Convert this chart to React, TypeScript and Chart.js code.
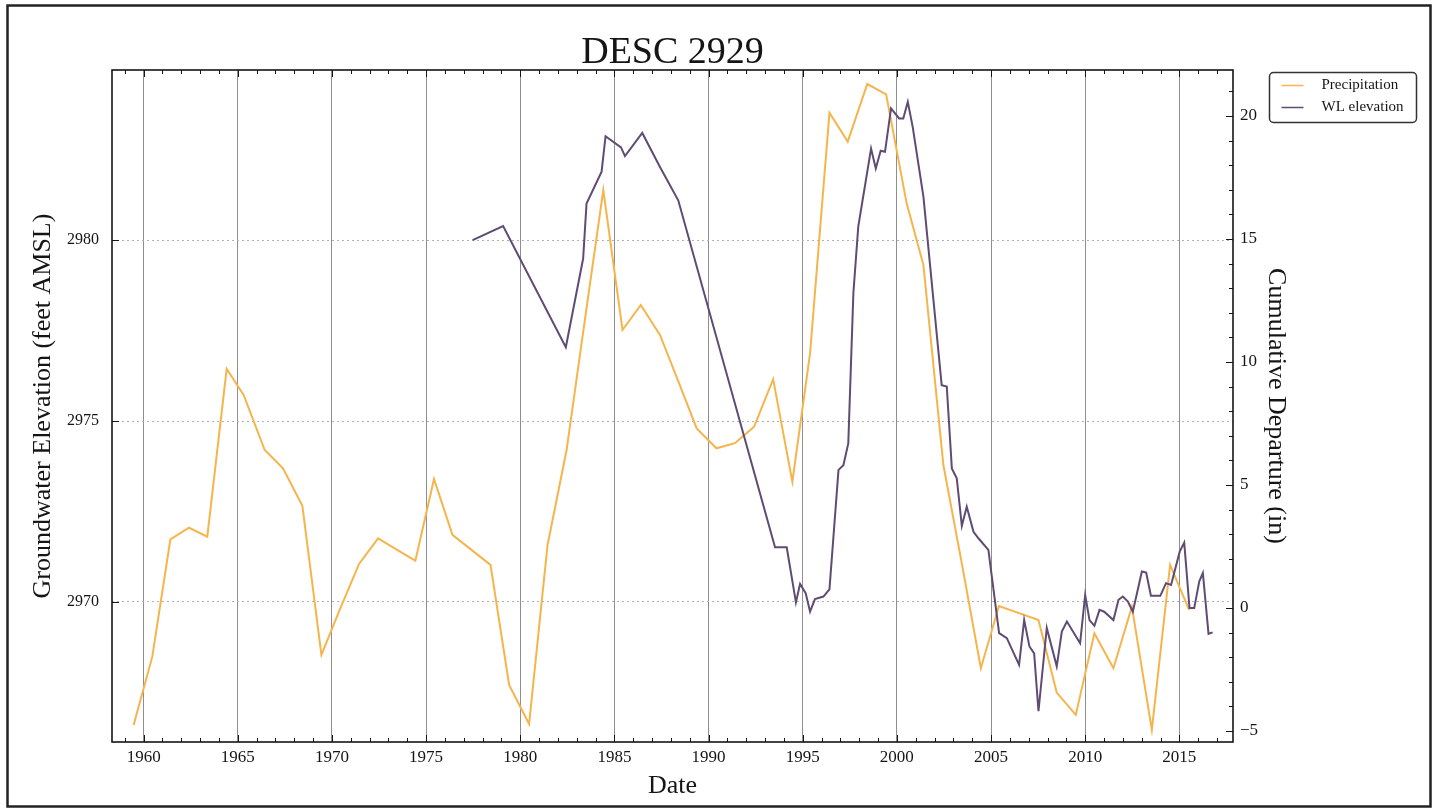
import React, { useEffect, useRef } from 'react';
import { Chart, registerables } from 'chart.js';

Chart.register(...registerables);

const TITLE = 'DESC 2929';

const precipYears = [
  1959.47, 1960.46, 1961.42, 1962.41, 1963.38, 1964.41, 1965.31, 1966.43, 1967.4, 1968.43,
  1969.44, 1970.41, 1971.44, 1972.45, 1973.46, 1974.43, 1975.42, 1976.4, 1977.41, 1978.42,
  1979.41, 1980.47, 1981.45, 1982.46, 1983.43, 1984.41, 1985.43, 1986.4, 1987.42, 1988.4,
  1989.37, 1990.42, 1991.4, 1992.42, 1993.43, 1994.45, 1995.39, 1996.42, 1997.39, 1998.43,
  1999.43, 2000.52, 2001.41, 2002.47, 2003.45, 2004.46, 2005.42, 2006.45, 2007.52, 2008.49,
  2009.5, 2010.49, 2011.5, 2012.48, 2013.54, 2014.51, 2015.52,
];
const precipValues = [
  -4.76, -1.98, 2.79, 3.26, 2.9, 9.72, 8.66, 6.42, 5.68, 4.15,
  -1.91, -0.08, 1.79, 2.83, 2.36, 1.92, 5.24, 2.97, 2.36, 1.75,
  -3.13, -4.72, 2.56, 6.42, 11.7, 16.99, 11.3, 12.32, 11.1, 9.2,
  7.3, 6.49, 6.7, 7.37, 9.3, 5.13, 10.35, 20.13, 18.96, 21.3,
  20.88, 16.45, 13.94, 5.81, 1.8, -2.45, 0.08, -0.2, -0.49, -3.44,
  -4.35, -1.03, -2.45, 0.05, -4.96, 1.75, -0.08,
];

const wlYears = [
  1977.47, 1979.09, 1982.42, 1983.34, 1983.52, 1984.32, 1984.53, 1985.35, 1985.56, 1986.48,
  1987.42, 1988.39, 1993.53, 1994.15, 1994.64, 1994.86, 1995.16, 1995.39, 1995.65, 1996.1,
  1996.42, 1996.9, 1997.16, 1997.42, 1997.69, 1997.95, 1998.63, 1998.88, 1999.14, 1999.37,
  1999.69, 2000.12, 2000.34, 2000.58, 2000.84, 2001.41, 2002.38, 2002.65, 2002.92, 2003.18,
  2003.45, 2003.71, 2004.07, 2004.33, 2004.86, 2005.43, 2005.84, 2006.49, 2006.76, 2007.04,
  2007.29, 2007.52, 2007.96, 2008.49, 2008.76, 2009.03, 2009.73, 2010.0, 2010.23, 2010.49,
  2010.76, 2011.01, 2011.5, 2011.77, 2012.0, 2012.27, 2012.53, 2013.01, 2013.24, 2013.49,
  2013.99, 2014.29, 2014.56, 2015.02, 2015.26, 2015.54, 2015.79, 2016.06, 2016.25, 2016.55,
  2016.77,
];
const wlValues = [
  2980.0, 2980.39, 2977.04, 2979.49, 2981.01, 2981.89, 2982.87, 2982.56, 2982.32, 2982.96,
  2982.02, 2981.1, 2971.51, 2971.51, 2969.99, 2970.5, 2970.24, 2969.73, 2970.08, 2970.15,
  2970.35, 2973.65, 2973.78, 2974.38, 2978.53, 2980.37, 2982.53, 2981.98, 2982.47, 2982.44,
  2983.64, 2983.36, 2983.36, 2983.82, 2983.13, 2981.2, 2975.99, 2975.95, 2973.69, 2973.42,
  2972.1, 2972.63, 2971.94, 2971.76, 2971.44, 2969.14, 2969.0, 2968.26, 2969.5, 2968.77,
  2968.58, 2966.98, 2969.28, 2968.22, 2969.18, 2969.46, 2968.86, 2970.19, 2969.5, 2969.34,
  2969.78, 2969.73, 2969.5, 2970.06, 2970.15, 2970.01, 2969.73, 2970.84, 2970.81, 2970.17,
  2970.17, 2970.52, 2970.47, 2971.39, 2971.64, 2969.83, 2969.83, 2970.57, 2970.8, 2969.12,
  2969.16,
];

const xTicks = [1960, 1965, 1970, 1975, 1980, 1985, 1990, 1995, 2000, 2005, 2010, 2015];
const leftTicks = [2970, 2975, 2980];
const rightTicks = [-5, 0, 5, 10, 15, 20];

const SERIF = "'Liberation Serif', 'Times New Roman', Times, serif";
const ORANGE = '#f6b44c';
const PURPLE = '#5f4b74';
const INK = '#151515';

const decorPlugin = {
  id: 'decor',
  beforeDraw(chart: any) {
    const { ctx, width, height } = chart;
    ctx.save();
    ctx.fillStyle = '#ffffff';
    ctx.fillRect(0, 0, width, height);
    ctx.restore();
  },
  afterDraw(chart: any) {
    const { ctx, chartArea: ca, scales } = chart;
    const x = scales.x;
    const yL = scales.yL;
    const yR = scales.yR;
    ctx.save();
    ctx.strokeStyle = INK;
    ctx.lineWidth = 1;
    ctx.beginPath();
    // year ticks on bottom and top frame
    for (let v = Math.ceil(x.min); v <= x.max; v++) {
      const px = Math.round(x.getPixelForValue(v)) + 0.5;
      const len = v % 5 === 0 ? 7 : 4;
      ctx.moveTo(px, ca.bottom);
      ctx.lineTo(px, ca.bottom - len);
      ctx.moveTo(px, ca.top);
      ctx.lineTo(px, ca.top + len);
    }
    // right axis ticks
    for (let v = Math.ceil(yR.min); v <= yR.max; v++) {
      const py = Math.round(yR.getPixelForValue(v)) + 0.5;
      const len = v % 5 === 0 ? 7 : 4;
      ctx.moveTo(ca.right, py);
      ctx.lineTo(ca.right - len, py);
    }
    // left axis ticks
    for (const v of leftTicks) {
      const py = Math.round(yL.getPixelForValue(v)) + 0.5;
      ctx.moveTo(ca.left, py);
      ctx.lineTo(ca.left + 7, py);
    }
    ctx.stroke();

    // plot frame
    ctx.lineWidth = 1.6;
    ctx.strokeStyle = INK;
    ctx.strokeRect(ca.left, ca.top, ca.right - ca.left, ca.bottom - ca.top);

    // outer figure border
    ctx.lineWidth = 2.5;
    ctx.strokeStyle = '#222';
    ctx.strokeRect(7.5, 5.5, 1423, 801);

    // title
    ctx.fillStyle = INK;
    ctx.font = `38px ${SERIF}`;
    ctx.textAlign = 'center';
    ctx.textBaseline = 'alphabetic';
    ctx.fillText(TITLE, (ca.left + ca.right) / 2, 63);

    // legend
    const lx = 1269.5;
    const ly = 72.5;
    const lw = 147;
    const lh = 50;
    ctx.lineWidth = 1.5;
    ctx.strokeStyle = '#333';
    ctx.beginPath();
    if (ctx.roundRect) ctx.roundRect(lx, ly, lw, lh, 4);
    else ctx.rect(lx, ly, lw, lh);
    ctx.stroke();
    ctx.font = `15px ${SERIF}`;
    ctx.textAlign = 'left';
    ctx.textBaseline = 'middle';
    chart.data.datasets.forEach((ds: any, i: number) => {
      const cy = ly + 13 + i * 22;
      ctx.strokeStyle = ds.borderColor;
      ctx.lineWidth = 1.5;
      ctx.beginPath();
      ctx.moveTo(lx + 12, cy);
      ctx.lineTo(lx + 34, cy);
      ctx.stroke();
      ctx.fillStyle = INK;
      ctx.fillText(ds.label, lx + 52, cy);
    });
    ctx.restore();
  },
};

export default function App() {
  const ref = useRef<HTMLCanvasElement>(null);

  useEffect(() => {
    const canvas = ref.current;
    if (!canvas) return;
    const chart = new Chart(canvas, {
      type: 'line',
      data: {
        datasets: [
          {
            label: 'Precipitation',
            data: precipYears.map((yr, i) => ({ x: yr, y: precipValues[i] })),
            yAxisID: 'yR',
            borderColor: ORANGE,
            backgroundColor: ORANGE,
            borderWidth: 2,
            pointRadius: 0,
            tension: 0,
            order: 1,
          },
          {
            label: 'WL elevation',
            data: wlYears.map((yr, i) => ({ x: yr, y: wlValues[i] })),
            yAxisID: 'yL',
            borderColor: PURPLE,
            backgroundColor: PURPLE,
            borderWidth: 2,
            pointRadius: 0,
            tension: 0,
            order: 0,
          },
        ],
      },
      options: {
        responsive: false,
        maintainAspectRatio: false,
        animation: false,
        layout: { padding: { top: 70, left: 0, right: 0, bottom: 0 } },
        plugins: {
          legend: { display: false },
          title: { display: false },
          tooltip: { enabled: false },
        },
        scales: {
          x: {
            type: 'linear',
            position: 'bottom',
            min: 1958.32,
            max: 2017.85,
            afterFit: (s: any) => {
              s.height = 68;
            },
            afterBuildTicks: (s: any) => {
              s.ticks = xTicks.map((v) => ({ value: v }));
            },
            ticks: {
              color: INK,
              font: { family: SERIF, size: 17 },
              padding: 5,
              maxRotation: 0,
              autoSkip: false,
              callback: (v: any) => String(v),
            },
            grid: { color: '#8e8e8e', lineWidth: 1, drawTicks: false },
            border: { display: false },
            title: {
              display: true,
              text: 'Date',
              color: INK,
              font: { family: SERIF, size: 26 },
              padding: { top: 0, bottom: 8 },
            },
          },
          yL: {
            type: 'linear',
            position: 'left',
            min: 2966.13,
            max: 2984.7,
            afterFit: (s: any) => {
              s.width = 112;
            },
            afterBuildTicks: (s: any) => {
              s.ticks = leftTicks.map((v) => ({ value: v }));
            },
            ticks: {
              color: INK,
              font: { family: SERIF, size: 16 },
              padding: 13,
              callback: (v: any) => String(v),
            },
            grid: { color: '#b2b2b2', lineWidth: 1, drawTicks: false },
            border: { display: false, dash: [2, 3] },
            title: {
              display: true,
              text: 'Groundwater Elevation (feet AMSL)',
              color: INK,
              font: { family: SERIF, size: 26 },
              padding: { top: 28, bottom: 0 },
            },
          },
          yR: {
            type: 'linear',
            position: 'right',
            min: -5.45,
            max: 21.87,
            afterFit: (s: any) => {
              s.width = 204;
            },
            afterBuildTicks: (s: any) => {
              s.ticks = rightTicks.map((v) => ({ value: v }));
            },
            ticks: {
              color: INK,
              font: { family: SERIF, size: 17 },
              padding: 7,
              callback: (v: any) => String(v).replace('-', '\u2212'),
            },
            grid: { display: false, drawTicks: false },
            border: { display: false },
            title: {
              display: true,
              text: 'Cumulative Departure (in)',
              color: INK,
              font: { family: SERIF, size: 26 },
              padding: { top: 146, bottom: 0 },
            },
          },
        },
      },
      plugins: [decorPlugin],
    } as any);
    return () => chart.destroy();
  }, []);

  return (
    <div style={{ position: 'absolute', left: 0, top: 0, width: 1437, height: 810, background: '#fff' }}>
      <canvas ref={ref} width={1437} height={810} style={{ display: 'block', width: 1437, height: 810 }} />
    </div>
  );
}
